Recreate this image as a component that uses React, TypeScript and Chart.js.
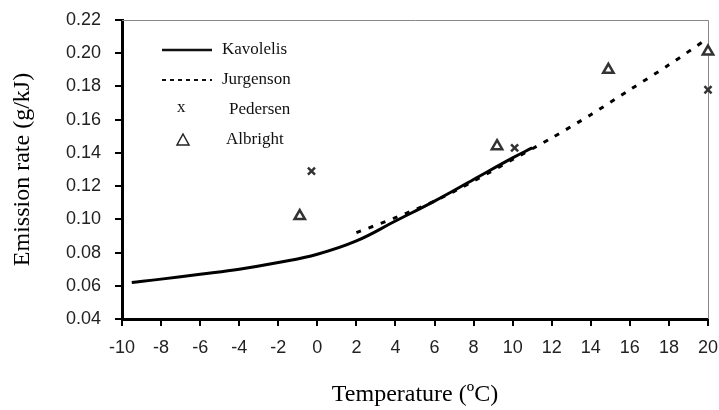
import React, { useEffect, useRef } from "react";
import { Chart, registerables } from "chart.js";

Chart.register(...registerables);

const xTicks = [-10, -8, -6, -4, -2, 0, 2, 4, 6, 8, 10, 12, 14, 16, 18, 20];
const yTicks = [0.04, 0.06, 0.08, 0.1, 0.12, 0.14, 0.16, 0.18, 0.2, 0.22];

const kavolelisX = [-9.5, -8, -6, -4, -2, 0, 2, 4, 6, 8, 10, 11];
const kavolelisY = [0.062, 0.064, 0.067, 0.07, 0.074, 0.079, 0.087, 0.099, 0.111, 0.124, 0.137, 0.143];

const jurgensonX = [2, 4, 6, 8, 10, 12, 14, 16, 18, 20];
const jurgensonY = [0.092, 0.101, 0.111, 0.123, 0.136, 0.149, 0.163, 0.178, 0.193, 0.209];

const pedersenX = [-0.3, 10.1, 20];
const pedersenY = [0.129, 0.143, 0.178];

const albrightX = [-0.9, 9.2, 14.9, 20];
const albrightY = [0.102, 0.144, 0.19, 0.201];

const labels = ["Kavolelis", "Jurgenson", "Pedersen", "Albright"];

const toPts = (xs: number[], ys: number[]) => xs.map((x, i) => ({ x, y: ys[i] }));

const frame = {
  id: "frame",
  beforeDatasetsDraw(chart: any) {
    const { ctx, chartArea: a } = chart;
    ctx.save();
    ctx.strokeStyle = "#888";
    ctx.lineWidth = 1;
    ctx.beginPath();
    ctx.moveTo(a.left, a.top + 0.5);
    ctx.lineTo(a.right + 0.5, a.top + 0.5);
    ctx.lineTo(a.right + 0.5, a.bottom);
    ctx.stroke();
    ctx.restore();
  },
};

const legendPlugin = {
  id: "customLegend",
  afterDraw(chart: any) {
    const { ctx } = chart;
    ctx.save();
    ctx.font = '17px "Liberation Serif", serif';
    ctx.fillStyle = "#111";
    ctx.textBaseline = "middle";
    const rows = [50, 80, 110, 140];
    chart.data.datasets.forEach((ds: any, i: number) => {
      const y = rows[i];
      if (i < 2) {
        ctx.strokeStyle = "#111";
        ctx.lineWidth = i === 0 ? 2.5 : 2;
        ctx.setLineDash(i === 0 ? [] : [4, 4]);
        ctx.beginPath();
        ctx.moveTo(162, y);
        ctx.lineTo(212, y);
        ctx.stroke();
        ctx.setLineDash([]);
        ctx.fillText(ds.label, 222, y);
      } else if (i === 2) {
        ctx.fillText("x", 177, y - 2);
        ctx.fillText(ds.label, 229, y);
      } else {
        ctx.strokeStyle = "#222";
        ctx.lineWidth = 1.5;
        ctx.beginPath();
        ctx.moveTo(183, y - 6);
        ctx.lineTo(189, y + 5);
        ctx.lineTo(177, y + 5);
        ctx.closePath();
        ctx.stroke();
        ctx.fillText(ds.label, 226, y);
      }
    });
    ctx.restore();
  },
};

export default function App() {
  const ref = useRef<HTMLCanvasElement>(null);
  useEffect(() => {
    document.body.style.margin = "0";
    const chart = new Chart(ref.current!, {
      type: "scatter",
      data: {
        datasets: [
          {
            label: labels[0],
            data: toPts(kavolelisX, kavolelisY),
            showLine: true,
            borderColor: "#000",
            borderWidth: 3,
            pointRadius: 0,
            tension: 0.4,
            clip: false,
          },
          {
            label: labels[1],
            data: toPts(jurgensonX, jurgensonY),
            showLine: true,
            borderColor: "#000",
            borderWidth: 3,
            borderDash: [5, 8],
            pointRadius: 0,
            tension: 0.3,
            clip: false,
          },
          {
            label: labels[2],
            data: toPts(pedersenX, pedersenY),
            pointStyle: "crossRot",
            pointRadius: 5,
            pointBorderWidth: 2.5,
            pointBorderColor: "#333",
            showLine: false,
            clip: false,
          },
          {
            label: labels[3],
            data: toPts(albrightX, albrightY),
            pointStyle: "triangle",
            pointRadius: 6,
            pointBorderWidth: 2.5,
            pointBorderColor: "#333",
            pointBackgroundColor: "#fff",
            showLine: false,
            clip: false,
          },
        ],
      },
      options: {
        animation: false,
        responsive: false,
        layout: { padding: { top: 20, right: 11, left: 4, bottom: 0 } },
        plugins: { legend: { display: false }, tooltip: { enabled: false } },
        scales: {
          x: {
            type: "linear",
            min: -10,
            max: 20,
            afterBuildTicks: (s: any) => {
              s.ticks = xTicks.map((v) => ({ value: v }));
            },
            afterFit: (s: any) => {
              s.height = 91;
              s.paddingLeft = 0;
              s.paddingRight = 0;
            },
            ticks: {
              color: "#222",
              font: { family: '"Liberation Sans", Arial, sans-serif', size: 18 },
              padding: 11,
              maxRotation: 0,
              autoSkip: false,
            },
            grid: { drawOnChartArea: false, drawTicks: true, tickLength: 7, color: "#000", lineWidth: 2 },
            border: { display: true, color: "#000", width: 3 },
            title: {
              display: true,
              text: "Temperature (ºC)",
              color: "#000",
              font: { family: '"Liberation Serif", serif', size: 24 },
              padding: { top: 14, bottom: 1 },
            },
          },
          y: {
            type: "linear",
            min: 0.04,
            max: 0.22,
            afterBuildTicks: (s: any) => {
              s.ticks = yTicks.map((v) => ({ value: v }));
            },
            afterFit: (s: any) => {
              s.width = 118;
              s.paddingTop = 0;
              s.paddingBottom = 0;
            },
            ticks: {
              color: "#222",
              font: { family: '"Liberation Sans", Arial, sans-serif', size: 18 },
              padding: 14,
              callback: (v: any) => Number(v).toFixed(2),
            },
            grid: { drawOnChartArea: false, drawTicks: true, tickLength: 7, color: "#000", lineWidth: 2 },
            border: { display: true, color: "#000", width: 3 },
            title: {
              display: true,
              text: "Emission rate (g/kJ)",
              color: "#000",
              font: { family: '"Liberation Serif", serif', size: 24 },
              padding: { bottom: 0 },
            },
          },
        },
      },
      plugins: [frame, legendPlugin],
    });
    return () => chart.destroy();
  }, []);
  return (
    <div style={{ position: "absolute", left: 0, top: 0, width: 719, height: 410 }}>
      <canvas ref={ref} width={719} height={410} style={{ width: 719, height: 410 }} />
    </div>
  );
}
